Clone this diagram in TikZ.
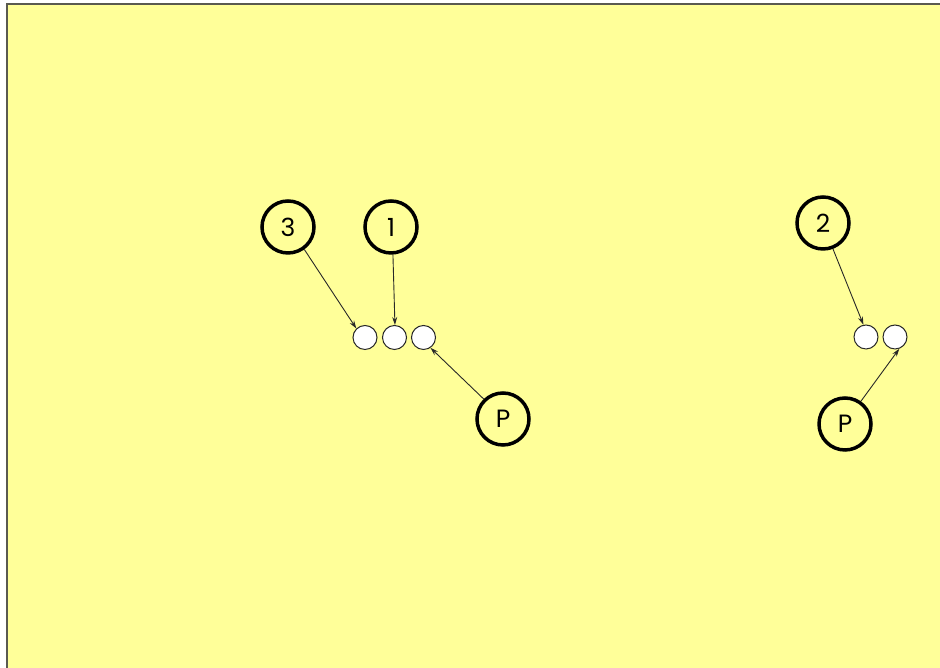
\documentclass[tikz,border=0pt]{standalone}
\usepackage{fontspec}
\setmainfont{Poppins}
\usetikzlibrary{arrows.meta}
\definecolor{sheet}{RGB}{255,255,153}
\definecolor{frame}{RGB}{90,90,80}
\definecolor{lead}{RGB}{40,40,40}
\tikzset{
  balloon/.style={circle,draw=black,line width=3.5pt,fill=sheet,minimum size=52pt,inner sep=0pt,font=\fontsize{25}{25}\selectfont},
  ball/.style={circle,draw=lead,line width=1pt,fill=white,minimum size=24pt,inner sep=0pt},
  leader/.style={draw=lead,line width=0.9pt,-{Stealth[length=8pt,width=5pt]}}
}
\begin{document}
\begin{tikzpicture}[x=1pt,y=1pt]
\useasboundingbox (0,0) rectangle (940,668);
\fill[white] (0,0) rectangle (940,668);
\fill[sheet] (7,0) rectangle (940,664);
\draw[frame,line width=2pt] (6,664) -- (940,664);
\draw[frame,line width=2pt] (7,664) -- (7,0);
% balls
\node[ball] (s1) at (365,330.5) {};
\node[ball] (s2) at (394.5,330.5) {};
\node[ball] (s3) at (423.5,330.5) {};
\node[ball] (s4) at (866,331) {};
\node[ball] (s5) at (895,331) {};
% balloons
\node[balloon] (b3) at (288,441) {3};
\node[balloon] (b1) at (391,441) {1};
\node[balloon] (pL) at (503,249) {P};
\node[balloon] (b2) at (823,445) {2};
\node[balloon] (pR) at (845,244) {P};
% leaders
\draw[leader] (b3.-54) -- (s1.134);
\draw[leader] (b1.-86) -- (s2.88);
\draw[leader] (pL.134) -- (s3.-56);
\draw[leader] (b2.-69) -- (s4.102);
\draw[leader] (pR.55) -- (s5.-70);
\end{tikzpicture}
\end{document}
